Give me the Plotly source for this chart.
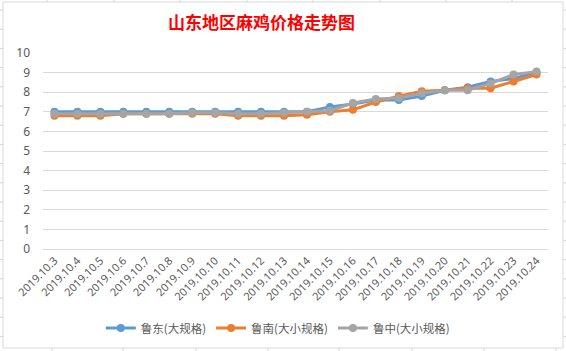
import plotly.graph_objects as go

dates = ["2019.10.3", "2019.10.4", "2019.10.5", "2019.10.6", "2019.10.7", "2019.10.8",
         "2019.10.9", "2019.10.10", "2019.10.11", "2019.10.12", "2019.10.13", "2019.10.14",
         "2019.10.15", "2019.10.16", "2019.10.17", "2019.10.18", "2019.10.19", "2019.10.20",
         "2019.10.21", "2019.10.22", "2019.10.23", "2019.10.24"]
ludong = [7.0, 7.0, 7.0, 7.0, 7.0, 7.0, 7.0, 7.0, 7.0, 7.0, 7.0, 7.0,
          7.25, 7.4, 7.6, 7.6, 7.8, 8.1, 8.25, 8.55, 8.7, 9.0]
lunan = [6.8, 6.8, 6.8, 6.9, 6.9, 6.9, 6.9, 6.9, 6.8, 6.8, 6.8, 6.85,
         7.0, 7.1, 7.5, 7.8, 8.05, 8.1, 8.2, 8.2, 8.55, 8.9]
luzhong = [6.9, 6.9, 6.9, 6.9, 6.9, 6.9, 6.95, 6.95, 6.9, 6.9, 6.95, 7.0,
           7.05, 7.45, 7.65, 7.7, 7.95, 8.1, 8.1, 8.45, 8.9, 9.05]
names = ["鲁东(大规格)", "鲁南(大小规格)", "鲁中(大小规格)"]
colors = ["#5B9BD5", "#ED7D31", "#A5A5A5"]
title = "山东地区麻鸡价格走势图"

W, H = 566, 351
ML, MR, MT, MB = 43, 18, 53, 102
PW, PH = W - ML - MR, H - MT - MB

def px(x):
    return (x - ML) / PW

def py(y):
    return (H - MB - y) / PH

fig = go.Figure()
for name, vals, c in zip(names, [ludong, lunan, luzhong], colors):
    fig.add_trace(go.Scatter(
        x=dates, y=vals, name=name, mode="lines+markers",
        line=dict(color=c, width=3),
        marker=dict(color=c, size=8, symbol="circle"),
    ))

shapes = []
grid_c = "#D4D4D4"
for k in range(19):
    yy = 10 + 19.2 * k
    shapes.append(dict(type="line", xref="paper", yref="paper", layer="below",
                       x0=px(0), x1=px(W), y0=py(yy), y1=py(yy),
                       line=dict(color=grid_c, width=1)))
for xx in [47, 114, 180, 247, 313, 380, 446, 512]:
    shapes.append(dict(type="line", xref="paper", yref="paper", layer="below",
                       x0=px(xx), x1=px(xx), y0=py(0), y1=py(5),
                       line=dict(color=grid_c, width=1)))
for xx in [52, 123, 196, 268, 339, 412, 484, 556]:
    shapes.append(dict(type="line", xref="paper", yref="paper", layer="below",
                       x0=px(xx), x1=px(xx), y0=py(345), y1=py(H),
                       line=dict(color=grid_c, width=1)))
shapes.append(dict(type="rect", xref="paper", yref="paper", layer="below",
                   x0=px(3), x1=px(563), y0=py(348), y1=py(2),
                   fillcolor="white", line=dict(color="#D9D9D9", width=1)))

fig.update_layout(
    width=W, height=H,
    margin=dict(l=ML, r=MR, t=MT, b=MB, autoexpand=False),
    paper_bgcolor="white",
    plot_bgcolor="rgba(0,0,0,0)",
    shapes=shapes,
    title=dict(text="<b>" + title + "</b>", x=0.462, xanchor="center",
               y=1 - 23 / H, yanchor="middle", yref="container",
               font=dict(family="Noto Sans CJK SC", size=17, color="#FF0000")),
    font=dict(family="Noto Sans CJK SC, Noto Sans", color="#595959", size=12),
    showlegend=True,
    legend=dict(orientation="h", x=0.465, xanchor="center", y=py(328), yanchor="middle",
                font=dict(size=11.5, color="#595959"), bgcolor="rgba(0,0,0,0)",
                itemwidth=30, tracegroupgap=0),
    xaxis=dict(type="category", tickangle=-45, showgrid=False, showline=True,
               linecolor="#D9D9D9", ticks="", automargin=False,
               tickfont=dict(size=11, family="Noto Sans", color="#595959"),
               range=[-0.5, len(dates) - 0.5]),
    yaxis=dict(range=[0, 10], dtick=1, showgrid=True, gridcolor="#D9D9D9", gridwidth=1,
               zeroline=False, showline=False, ticks="", automargin=False,
               ticklabelstandoff=12,
               tickfont=dict(size=12, family="Noto Sans", color="#595959")),
)

fig.write_html("out.html")
